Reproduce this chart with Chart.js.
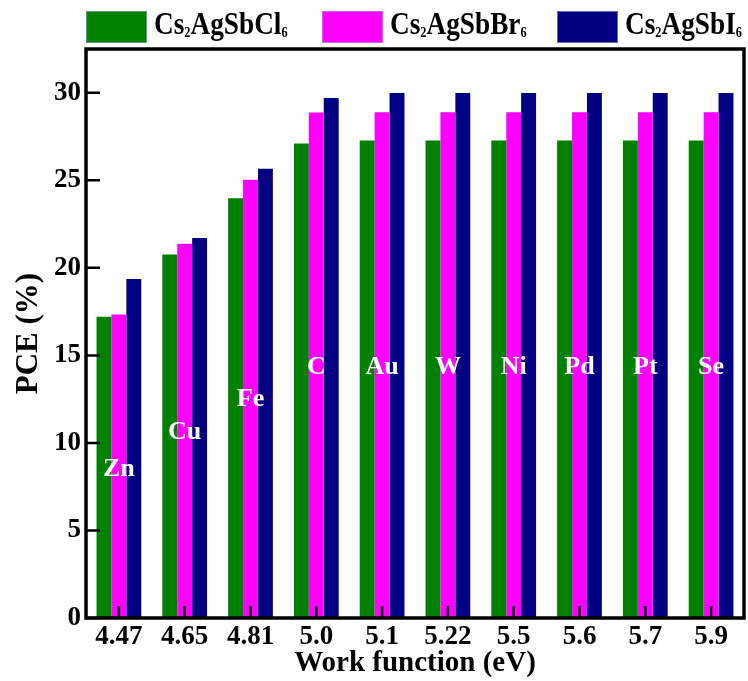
<!DOCTYPE html>
<html>
<head>
<meta charset="utf-8">
<script src="https://cdn.jsdelivr.net/npm/chart.js@4.4.1/dist/chart.umd.min.js"></script>
<style>
  html, body { margin: 0; padding: 0; background: #ffffff; }
  #wrap { width: 748px; height: 681px; position: relative; }
</style>
</head>
<body>
<div id="wrap"><canvas id="c" width="748" height="681"></canvas></div>
<script>
// ---- data ----
const workFunctions = ['4.47', '4.65', '4.81', '5.0', '5.1', '5.22', '5.5', '5.6', '5.7', '5.9'];
const metals = ['Zn', 'Cu', 'Fe', 'C', 'Au', 'W', 'Ni', 'Pd', 'Pt', 'Se'];
const metalLabelPCE = [8.5, 10.6, 12.5, 14.3, 14.3, 14.3, 14.3, 14.3, 14.3, 14.3];
const pceCl = [17.2, 20.76, 23.98, 27.1, 27.27, 27.27, 27.27, 27.27, 27.27, 27.27];
const pceBr = [17.33, 21.37, 25.03, 28.88, 28.89, 28.89, 28.89, 28.89, 28.89, 28.89];
const pceI  = [19.37, 21.71, 25.66, 29.7, 29.98, 29.98, 29.98, 29.98, 29.98, 29.98];
const seriesNames = ['Cs₂AgSbCl₆', 'Cs₂AgSbBr₆', 'Cs₂AgSbI₆'];
const yTicks = [0, 5, 10, 15, 20, 25, 30];

const SERIF = "'Liberation Serif', 'Times New Roman', serif";

// custom legend with proper subscripts
const legendPlugin = {
  id: 'subLegend',
  afterDraw(chart) {
    const ctx = chart.ctx;
    const subs = {'₀':'0','₁':'1','₂':'2','₃':'3','₄':'4','₅':'5','₆':'6','₇':'7','₈':'8','₉':'9'};
    const boxX = [86, 322, 557];
    const mainFont = 'bold 31px ' + SERIF;
    const subFont = 'bold 14px ' + SERIF;
    const sx = 0.88;
    chart.data.datasets.forEach((ds, i) => {
      ctx.save();
      ctx.fillStyle = ds.backgroundColor;
      ctx.fillRect(boxX[i], 11, 61, 32);
      ctx.strokeStyle = 'rgba(170,170,230,0.6)';
      ctx.lineWidth = 1;
      ctx.strokeRect(boxX[i] + 0.5, 11.5, 60, 31);
      ctx.restore();
      ctx.save();
      ctx.translate(boxX[i] + 68, 0);
      ctx.scale(sx, 1);
      ctx.fillStyle = '#000';
      ctx.textBaseline = 'alphabetic';
      let x = 0;
      for (const ch of ds.label) {
        if (subs[ch]) {
          ctx.font = subFont;
          ctx.fillText(subs[ch], x, 37);
          x += ctx.measureText(subs[ch]).width;
        } else {
          ctx.font = mainFont;
          ctx.fillText(ch, x, 34);
          x += ctx.measureText(ch).width;
        }
      }
      ctx.restore();
    });
  }
};

// frame, inner ticks, metal labels
const framePlugin = {
  id: 'frame',
  afterDatasetsDraw(chart) {
    const ctx = chart.ctx;
    const a = chart.chartArea;
    const xs = chart.scales.x, ys = chart.scales.y;
    ctx.save();
    ctx.fillStyle = '#ffffff';
    ctx.font = 'bold 26px ' + SERIF;
    ctx.textAlign = 'center';
    ctx.textBaseline = 'middle';
    metals.forEach((m, i) => {
      ctx.fillText(m, xs.getPixelForValue(i), ys.getPixelForValue(metalLabelPCE[i]));
    });
    ctx.strokeStyle = '#000';
    ctx.lineWidth = 2.5;
    ctx.beginPath();
    yTicks.forEach(v => {
      const y = ys.getPixelForValue(v);
      ctx.moveTo(a.left, y);
      ctx.lineTo(a.left + 14, y);
    });
    workFunctions.forEach((w, i) => {
      const x = xs.getPixelForValue(i);
      ctx.moveTo(x, a.bottom);
      ctx.lineTo(x, a.bottom - 12);
    });
    ctx.stroke();
    ctx.lineWidth = 3.5;
    ctx.strokeRect(a.left, a.top, a.right - a.left, a.bottom - a.top);
    ctx.restore();
  }
};

new Chart(document.getElementById('c'), {
  type: 'bar',
  data: {
    labels: workFunctions,
    datasets: [
      { label: seriesNames[0], data: pceCl, backgroundColor: '#008000' },
      { label: seriesNames[1], data: pceBr, backgroundColor: '#ff00ff' },
      { label: seriesNames[2], data: pceI,  backgroundColor: '#000080' }
    ]
  },
  options: {
    responsive: false,
    animation: false,
    devicePixelRatio: 1,
    layout: { padding: { left: 0, right: 4, top: 49, bottom: 0 } },
    datasets: { bar: { barPercentage: 1.0, categoryPercentage: 0.68, borderWidth: 0 } },
    plugins: {
      legend: { display: false },
      tooltip: { enabled: false }
    },
    scales: {
      x: {
        grid: { display: false, drawTicks: false },
        border: { display: false },
        ticks: { color: '#000', font: { family: SERIF, weight: 'bold', size: 27 }, padding: 3, maxRotation: 0, autoSkip: false },
        title: { display: true, text: 'Work function (eV)', color: '#000', font: { family: SERIF, weight: 'bold', size: 29 }, padding: { top: 0, bottom: 0 } },
        afterFit(scale) { scale.height = 63; }
      },
      y: {
        min: 0, max: 32.5,
        grid: { display: false, drawTicks: false },
        border: { display: false },
        ticks: { stepSize: 5, color: '#000', font: { family: SERIF, weight: 'bold', size: 27 }, padding: 5 },
        afterBuildTicks(scale) { scale.ticks = yTicks.map(v => ({ value: v })); },
        title: { display: true, text: 'PCE (%)', color: '#000', font: { family: SERIF, weight: 'bold', size: 31 }, padding: { top: 10, bottom: 0 } },
        afterFit(scale) { scale.width = 86; }
      }
    }
  },
  plugins: [legendPlugin, framePlugin]
});
</script>
</body>
</html>
